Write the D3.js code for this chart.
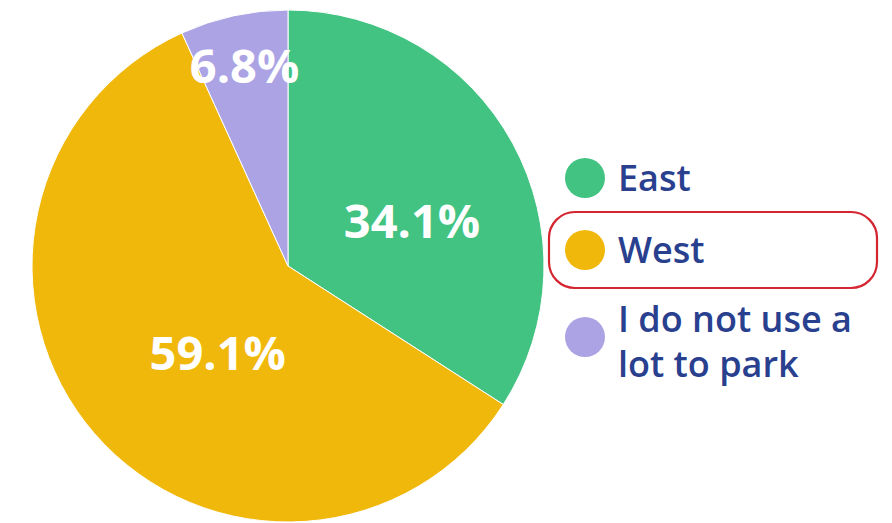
<!DOCTYPE html>
<html>
<head>
<meta charset="utf-8">
<script src="https://cdn.jsdelivr.net/npm/d3@7"></script>
<style>
  body { margin: 0; background: #fff; }
  svg { display: block; }
</style>
</head>
<body>
<div id="chart"></div>
<script>
// data
var categories = ["East", "West", "I do not use a lot to park"];
var values = [34.1, 59.1, 6.8];
var colors = ["#42c382", "#f1b80c", "#aba3e4"];
var legendLines = [["East"], ["West"], ["I do not use a", "lot to park"]];

var width = 892, height = 523;
var cx = 288, cy = 266, radius = 256;

var svg = d3.select("#chart")
  .append("svg")
  .attr("width", width)
  .attr("height", height);

var pie = d3.pie().sort(null).value(function(d) { return d; });
var arcs = pie(values);

var arc = d3.arc().innerRadius(0).outerRadius(radius);

var g = svg.append("g")
  .attr("transform", "translate(" + cx + "," + cy + ")");

g.selectAll("path")
  .data(arcs)
  .enter()
  .append("path")
  .attr("d", arc)
  .attr("fill", function(d, i) { return colors[i]; })
  .attr("stroke", "#fff")
  .attr("stroke-width", 1);

// label placement, tuned a bit per slice like the original
var labelRadius = [132, 112, 205];
var labelShift = [0.15, -0.18, 0];

g.selectAll("text.pct")
  .data(arcs)
  .enter()
  .append("text")
  .attr("class", "pct")
  .attr("transform", function(d, i) {
    var a = (d.startAngle + d.endAngle) / 2 + labelShift[i];
    var x = Math.sin(a) * labelRadius[i];
    var y = -Math.cos(a) * labelRadius[i];
    return "translate(" + x + "," + y + ")";
  })
  .attr("text-anchor", "middle")
  .attr("dy", "0.36em")
  .attr("fill", "#fff")
  .style("font-family", "'Open Sans', sans-serif")
  .style("font-weight", 700)
  .style("font-size", "47px")
  .text(function(d) { return d.value.toFixed(1) + "%"; });

// legend
var legendY = d3.scaleOrdinal()
  .domain(categories)
  .range([178, 250, 337]);

svg.append("rect")
  .attr("x", 549)
  .attr("y", 212)
  .attr("width", 328)
  .attr("height", 76)
  .attr("rx", 26)
  .attr("fill", "none")
  .attr("stroke", "#d42530")
  .attr("stroke-width", 2.2);

var legend = svg.selectAll("g.legend")
  .data(categories)
  .enter()
  .append("g")
  .attr("class", "legend")
  .attr("transform", function(d) { return "translate(585," + legendY(d) + ")"; });

legend.append("circle")
  .attr("r", 20)
  .attr("fill", function(d, i) { return colors[i]; });

legend.each(function(d, i) {
  var lines = legendLines[i];
  var t = d3.select(this).append("text")
    .attr("x", 33)
    .attr("fill", "#29408f")
    .style("font-family", "'Open Sans', sans-serif")
    .style("font-weight", 600)
    .style("font-size", "36px");
  lines.forEach(function(line, j) {
    t.append("tspan")
      .attr("x", 33)
      .attr("y", (j - (lines.length - 1) / 2) * 45 + (lines.length > 1 ? 5 : 0))
      .attr("dy", "0.35em")
      .text(line);
  });
});
</script>
</body>
</html>
